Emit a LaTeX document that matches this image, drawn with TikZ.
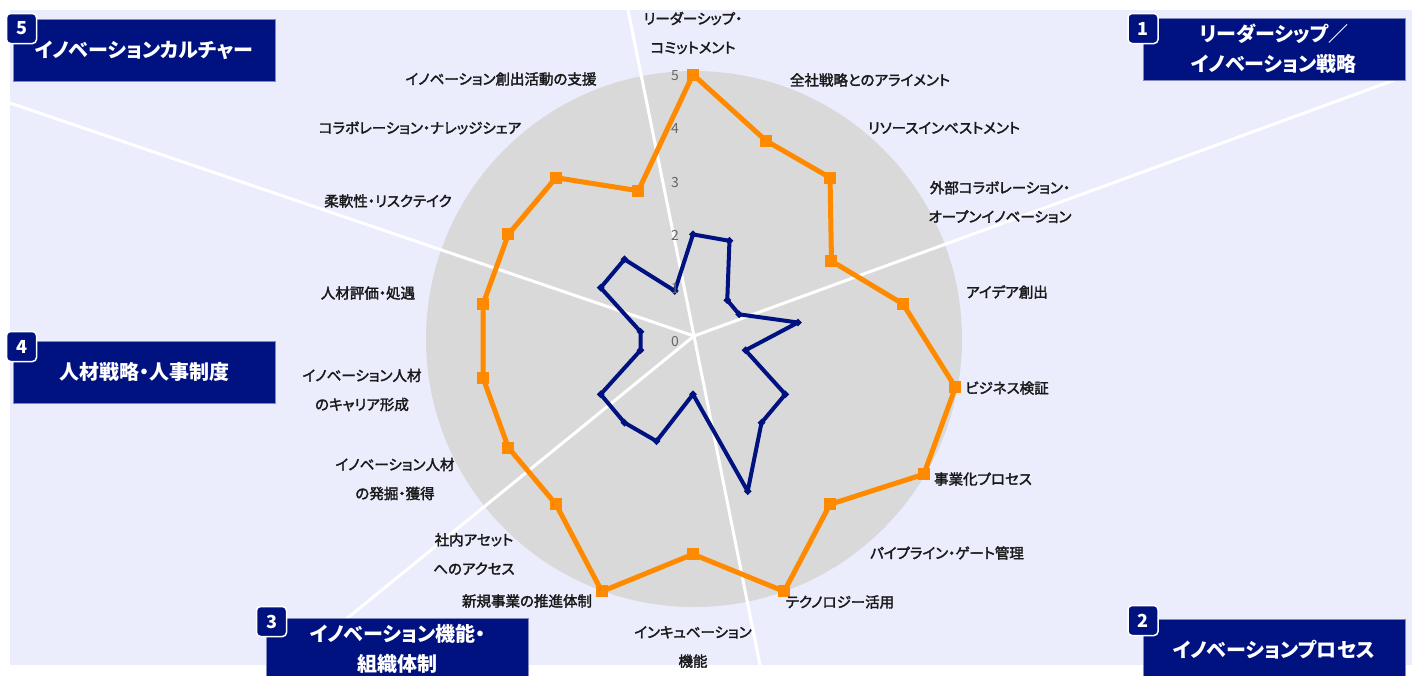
\documentclass[tikz,border=0pt]{standalone}
\usepackage{fontspec}
\setmainfont{Noto Sans CJK JP}[RawFeature=+palt]
\newfontfamily\labfont{Noto Sans CJK JP}[RawFeature=+palt, FakeBold=2.2]
\usetikzlibrary{calc, shapes.geometric}
\definecolor{navyb}{RGB}{0,17,128}
\definecolor{darko}{RGB}{255,138,0}
\definecolor{lavbg}{RGB}{235,237,253}
\definecolor{discg}{RGB}{217,217,217}

\begin{document}
\begin{tikzpicture}[x=1pt, y=-1pt,
    lab/.style={font=\labfont\fontsize{14.5}{29}\selectfont, text=black!90, align=center, inner sep=0pt},
    tk/.style={font=\fontsize{14}{14}\selectfont, text=black!60, inner sep=0pt, anchor=east},
    sep/.style={white, line width=3pt},
    box/.style={fill=navyb, draw=navyb!50!white, line width=0.6pt, minimum width=262pt,
      minimum height=62pt, inner sep=0pt, text=white, align=center,
      font=\fontsize{20}{30}\selectfont\bfseries},
    badge/.style={fill=navyb, draw=white, line width=1.5pt, rounded corners=4pt,
      minimum size=30pt, inner sep=0pt, text=white, font=\fontsize{18}{18}\selectfont\bfseries},
    om/.style={fill=darko, minimum size=12pt, inner sep=0pt},
    bm/.style={diamond, fill=navyb, minimum size=8pt, inner sep=0pt}]
  \useasboundingbox (0,0) rectangle (1416,675);
  \fill[white] (0,0) rectangle (1416,675);
  \fill[lavbg] (10,10) rectangle (1412,665);

  % chart area
  \coordinate (c) at (693,341);
  \coordinate (x) at (694,336);
  \fill[discg] (694,339) circle (268);
  \coordinate (e1) at (628,10);
  \coordinate (e2) at (1400,78);
  \coordinate (e3) at (760,665);
  \coordinate (e4) at (345,620);
  \coordinate (e5) at (10,103);
  \foreach \i in {1,...,5}
    \draw[sep] (x) -- (e\i);

  % scores
  \foreach \v [count=\i] in {5,4,4,3,4,5,5,4,5,4,5,4,4,4,4,4,4,3}
    \coordinate (o\i) at ($(c)+({20*\i-110}:{53.3*\v})$);
  \foreach \v [count=\i] in {2,2,1,1,2,1,2,2,3,1,2,2,2,1,1,2,2,1}
    \coordinate (b\i) at ($(c)+({20*\i-110}:{53.3*\v})$);
  \draw[darko, line width=5pt, line join=round] (o1) \foreach \i in {2,...,18} {-- (o\i)} -- cycle;
  \draw[navyb, line width=4pt, line join=round] (b1) \foreach \i in {2,...,18} {-- (b\i)} -- cycle;
  \foreach \i in {1,...,18} {
    \node[om] (om\i) at (o\i) {};
    \node[bm] (bm\i) at (b\i) {};
  }
  \foreach \k in {0,...,5}
    \node[tk] (t\k) at ($(c)+(-14,{1-53.3*\k})$) {\k};

  % axis labels
  \node[lab] (l1) at (693,33) {リーダーシップ・\\コミットメント};
  \node[lab] (l2) at (870,80) {全社戦略とのアライメント};
  \node[lab] (l3) at (944,128) {リソースインベストメント};
  \node[lab] (l4) at (1000,202) {外部コラボレーション・\\オープンイノベーション};
  \node[lab] (l5) at (1007,292) {アイデア創出};
  \node[lab] (l6) at (1007,388) {ビジネス検証};
  \node[lab] (l7) at (983,479) {事業化プロセス};
  \node[lab] (l8) at (947,553) {パイプライン・ゲート管理};
  \node[lab] (l9) at (840,602) {テクノロジー活用};
  \node[lab] (l10) at (693,647) {インキュベーション\\機能};
  \node[lab] (l11) at (527,601) {新規事業の推進体制};
  \node[lab] (l12) at (474,554) {社内アセット\\へのアクセス};
  \node[lab] (l13) at (395,479) {イノベーション人材\\の発掘・獲得};
  \node[lab] (l14) at (362,390) {イノベーション人材\\のキャリア形成};
  \node[lab] (l15) at (368,293) {人材評価・処遇};
  \node[lab] (l16) at (388,201) {柔軟性・リスクテイク};
  \node[lab] (l17) at (420,128) {コラボレーション・ナレッジシェア};
  \node[lab] (l18) at (501,79) {イノベーション創出活動の支援};

  % category boxes
  \node[box] (c1) at (1274,49) {リーダーシップ／\\イノベーション戦略};
  \node[box] (c2) at (1274,650) {イノベーションプロセス};
  \node[box] (c3) at (397.5,649) {イノベーション機能・\\組織体制};
  \node[box] (c4) at (144,372) {人材戦略・人事制度};
  \node[box] (c5) at (144,50) {イノベーションカルチャー};
  \node[badge] (n1) at (1143,28.5) {1};
  \node[badge] (n2) at (1143,620.5) {2};
  \node[badge] (n3) at (271.5,621.5) {3};
  \node[badge] (n4) at (21.5,346.5) {4};
  \node[badge] (n5) at (21.5,28.5) {5};
\end{tikzpicture}
\end{document}
